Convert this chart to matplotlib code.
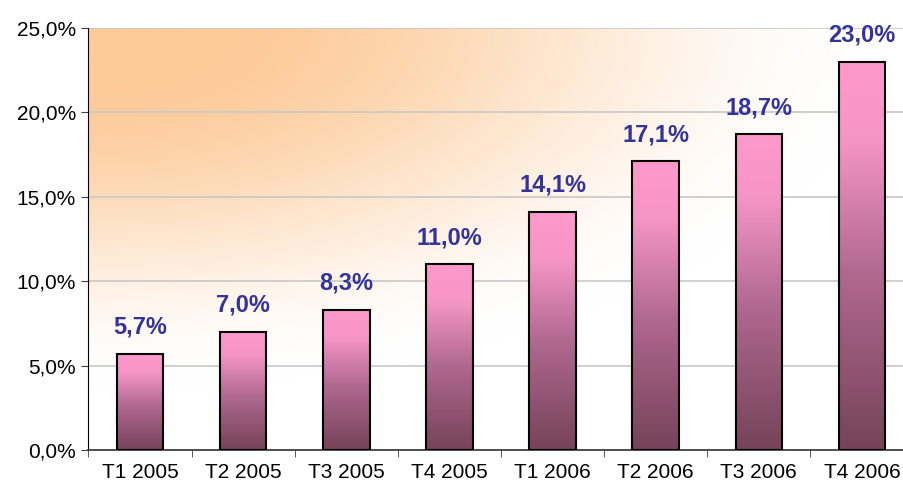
import numpy as np
import matplotlib
matplotlib.use('Agg')
import matplotlib.pyplot as plt
from matplotlib.colors import LinearSegmentedColormap

categories = ['T1 2005', 'T2 2005', 'T3 2005', 'T4 2005',
              'T1 2006', 'T2 2006', 'T3 2006', 'T4 2006']
values = [5.7, 7.0, 8.3, 11.0, 14.1, 17.1, 18.7, 23.0]
y_ticks = [0, 5, 10, 15, 20, 25]

plt.rcParams['font.family'] = ['Liberation Sans', 'DejaVu Sans']

fig = plt.figure(figsize=(9.04, 4.88), dpi=100)
ax = fig.add_axes([88.5 / 904, 1 - 450 / 488, 825 / 904, 422 / 488])

n = len(categories)
x = np.arange(n)

# background: orange in the top-left corner fading to white
orange = np.array([253, 202, 152]) / 255.0
u = np.linspace(0, 1, 400)[None, :]
v = np.linspace(0, 1, 300)[:, None]
d = np.sqrt((u / 1.08) ** 2 + (v / 0.95) ** 2)
t = np.clip((d - 0.12) / 0.78, 0, 1)
t = t * t * (3 - 2 * t)
bg = orange[None, None, :] * (1 - t[..., None]) + np.ones(3)[None, None, :] * t[..., None]
ax.imshow(bg, extent=[-0.5, n - 0.5, 0, 25], origin='upper', aspect='auto', zorder=0)

for yt in y_ticks[1:]:
    ax.axhline(yt, color='#c8c8c8', lw=1.2, zorder=1)

# bars with a vertical pink -> dark mauve gradient
cmap = LinearSegmentedColormap.from_list(
    'bar', [(0, '#754359'), (0.45, '#b0688f'), (0.8, '#f595c6'), (1, '#ff99cc')])
grad = np.linspace(0, 1, 256)[:, None]
w = 0.45
for xi, val in zip(x, values):
    ax.imshow(grad, cmap=cmap, origin='lower', aspect='auto',
              extent=[xi - w / 2, xi + w / 2, 0, val], zorder=2)
    ax.bar(xi, val, width=w, facecolor='none', edgecolor='black', lw=1.5, zorder=3)
    ax.annotate(f'{val:.1f}%'.replace('.', ','), (xi, val), xytext=(0, 11),
                textcoords='offset points', ha='center', va='bottom',
                fontsize=17, fontweight='bold', color='#333399', zorder=4,
                annotation_clip=False)

ax.set_xlim(-0.5, n - 0.5)
ax.set_ylim(0, 25)

ax.set_yticks(y_ticks)
ax.set_yticklabels([f'{v:.1f}%'.replace('.', ',') for v in y_ticks], fontsize=15)
ax.set_xticks(x)
ax.set_xticklabels(categories, fontsize=15)
ax.tick_params(axis='x', length=0, pad=9)
ax.set_xticks(np.arange(n + 1) - 0.5, minor=True)
ax.tick_params(axis='x', which='minor', length=5, color='#404040', direction='out')
ax.tick_params(axis='y', length=5, color='#404040', direction='out', pad=4)

ax.spines['top'].set_visible(False)
ax.spines['right'].set_visible(False)
ax.spines['left'].set_color('black')
ax.spines['bottom'].set_color('#404040')
ax.spines['bottom'].set_linewidth(1.3)

plt.savefig('out.png', dpi=100)
